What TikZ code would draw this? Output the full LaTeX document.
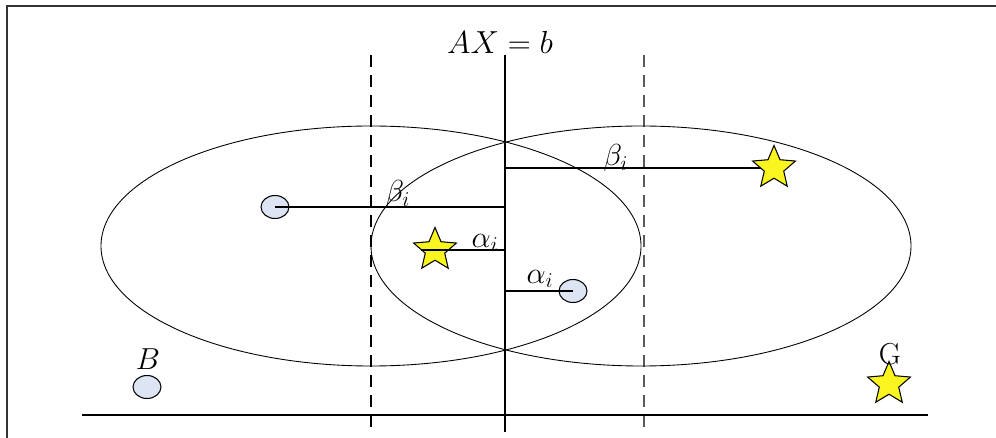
\documentclass[tikz,border=0pt]{standalone}
\usetikzlibrary{shapes.geometric,backgrounds}
\definecolor{dotfill}{RGB}{221,229,244}
\definecolor{starfill}{RGB}{250,245,30}
\begin{document}
\begin{tikzpicture}[x=0.02cm, y=-0.02cm, line width=0.6pt,
    dot/.style={ellipse, draw, fill=dotfill, minimum width=0.56cm, minimum height=0.46cm, inner sep=0pt},
    goal/.style={star, star points=5, star point ratio=2.2, draw, fill=starfill, minimum size=0.9cm, inner sep=0pt},
    dashline/.style={dash pattern=on 0.24cm off 0.16cm},
    lbl/.style={font=\LARGE, inner sep=1pt}
]
\useasboundingbox (0,0) rectangle (996,438);

% frame
\draw[line width=1pt, black!80] (7,438) -- (7,6) -- (996,6);

% the hyperplane and the two margins
\coordinate (top) at (505,55);
\coordinate (bot) at (505,432);
\coordinate (ltop) at (371,55);
\coordinate (lbot) at (371,432);
\coordinate (rtop) at (644,55);
\coordinate (rbot) at (644,432);
\draw[line width=0.8pt] (top) -- (bot);
\draw[dashline] (ltop) -- (lbot);
\draw[dashline, black!65] (rtop) -- (rbot);
\node[lbl, scale=1.05] (eq) at (500,42) {$AX=b$};

% base line
\coordinate (base1) at (82,415);
\coordinate (base2) at (928,415);
\draw (base1) -- (base2);

% the two ellipses
\draw[line width=0.5pt] (371,246) ellipse [x radius=270, y radius=120];
\draw[line width=0.5pt] (641,246) ellipse [x radius=270, y radius=120];

% samples
\node[dot] (b1) at (275,207) {};
\node[dot] (b2) at (573,291) {};
\node[dot] (bb) at (147,387) {};
\node[goal] (g1) at (774,168) {};
\node[goal] (g2) at (435,250) {};
\node[goal] (gg) at (889,384) {};

% distances
\begin{scope}[on background layer]
\draw[line width=0.6pt] (g1.center) -- (g1 -| top);
\end{scope}
\draw (b1.center) -- (b1 -| top);
\draw (g2.west) -- (g2 -| top);
\draw (b2.center) -- (b2 -| top);

\node[lbl] (beta1) at (398,194) {$\beta_i$};
\node[lbl] (beta2) at (616,158) {$\beta_i$};
\node[lbl] (alpha1) at (485,243) {$\alpha_i$};
\node[lbl] (alpha2) at (540,279) {$\alpha_i$};
\node[lbl] (blab) at (148,359) {$B$};
\node[lbl] (glab) at (890,354) {G};

\end{tikzpicture}
\end{document}
